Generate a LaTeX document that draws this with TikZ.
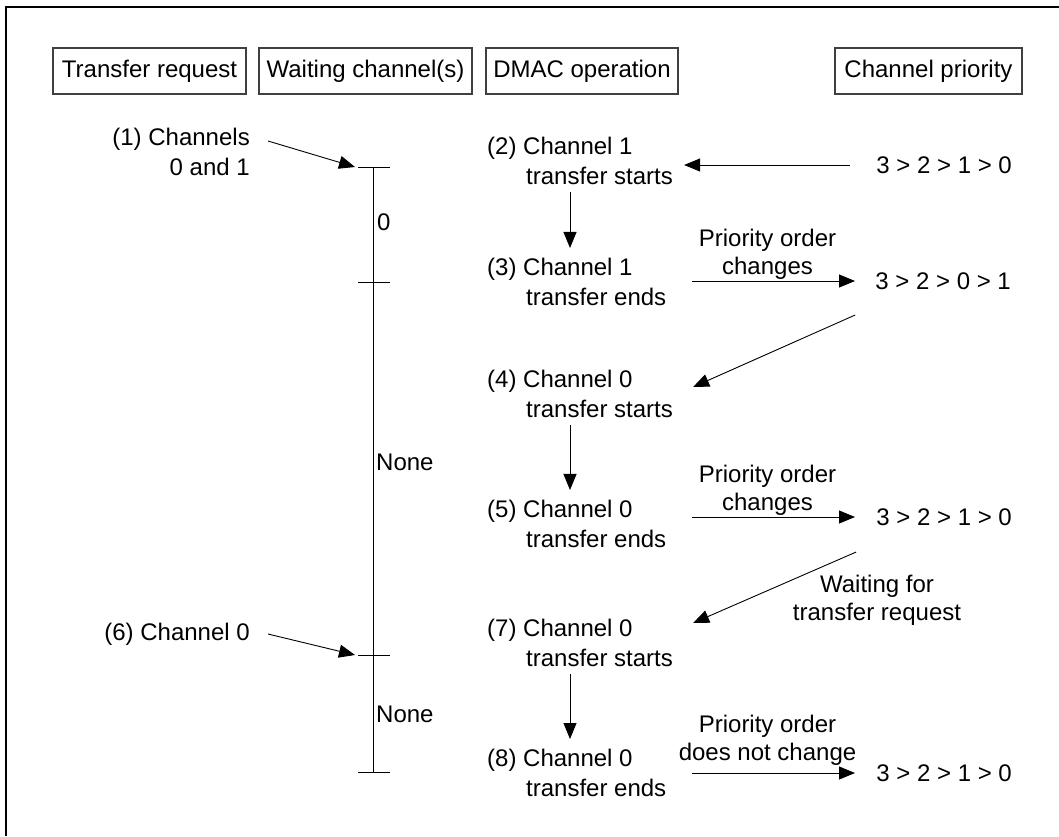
\documentclass[tikz,border=0pt]{standalone}
\usepackage{fontspec}
\setmainfont{Liberation Sans}
\usetikzlibrary{arrows.meta,positioning}

\begin{document}
\begin{tikzpicture}[x=1pt, y=-1pt,
      font=\fontsize{24}{30}\selectfont,
      head/.style={draw=black!75, line width=1.2pt, minimum height=46pt, inner xsep=6pt},
      txt/.style={inner sep=0pt},
      op/.style={txt, anchor=west, align=left},
      prio/.style={txt, anchor=east},
      note/.style={align=center, inner sep=1pt, xshift=-6pt, font=\fontsize{24}{28}\selectfont},
      arr/.style={-{Triangle[length=16pt,width=13pt]}, line width=0.9pt},
      down/.style={arr, shorten <=7pt, shorten >=10pt},
      tl/.style={line width=1pt}
    ]
    \useasboundingbox (0,0) rectangle (1059,836);
    % outer frame, only its top and left edge are in the picture
    \draw[line width=2pt] (1059,7) -- (6,7) -- (6,836);

    % column heads
    \node[head, minimum width=193pt] (hreq)  at (149.5,71) {Transfer request};
    \node[head, minimum width=213pt] (hwait) at (365.5,71) {Waiting channel(s)};
    \node[head, minimum width=192pt] (hop)   at (582,71)   {DMAC operation};
    \node[head, minimum width=187pt] (hprio) at (928.5,71) {Channel priority};

    % transfer requests
    \node[txt, anchor=east, align=right] (req1) at (250,152) {(1) Channels\\0 and 1};
    \node[txt, anchor=east] (req6) at (250,634) {(6) Channel 0};

    % waiting channels on a time line
    \coordinate (t1) at (373,167);
    \coordinate (t2) at (373,282);
    \coordinate (t3) at (373,655);
    \coordinate (t4) at (373,772);
    \draw[tl] (t1) -- (t4);
    \foreach \t in {t1,t2,t3,t4}
      \draw[tl] ([xshift=-15pt]\t) -- ([xshift=17pt]\t);
    \node[txt, anchor=west] (wait0) at (377,222) {0};
    \node[txt, anchor=west] (none1) at (376,462) {None};
    \node[txt, anchor=west] (none2) at (376,714) {None};

    \draw[arr] ([xshift=18pt,yshift=11pt]req1.east) -- ([xshift=-18pt]t1);
    \draw[arr] ([xshift=18pt]req6.east) -- ([xshift=-18pt]t3);

    % DMAC operation
    \node[op] (op2) at (487,161) {(2) Channel 1\\\hspace*{39pt}transfer starts};
    \node[op] (op3) at (487,282) {(3) Channel 1\\\hspace*{39pt}transfer ends};
    \node[op] (op4) at (487,394) {(4) Channel 0\\\hspace*{39pt}transfer starts};
    \node[op] (op5) at (487,524) {(5) Channel 0\\\hspace*{39pt}transfer ends};
    \node[op] (op7) at (487,643) {(7) Channel 0\\\hspace*{39pt}transfer starts};
    \node[op] (op8) at (487,773) {(8) Channel 0\\\hspace*{39pt}transfer ends};

    \draw[down] ([xshift=83pt]op2.south west) -- ([xshift=83pt]op3.north west);
    \draw[down] ([xshift=83pt]op4.south west) -- ([xshift=83pt]op5.north west);
    \draw[down] ([xshift=83pt]op7.south west) -- ([xshift=83pt]op8.north west);

    % channel priority
    \node[prio] (prio0) at (1012,165) {3 > 2 > 1 > 0};
    \node[prio] (prio1) at (1011,281) {3 > 2 > 0 > 1};
    \node[prio] (prio2) at (1012,517) {3 > 2 > 1 > 0};
    \node[prio] (prio3) at (1012,773) {3 > 2 > 1 > 0};

    \coordinate (colA) at (692,0);
    \coordinate (colB) at (855,0);

    \draw[arr, shorten <=26pt] (prio0.west) -- ([xshift=11pt]prio0.west -| op2.east);
    \draw[arr] (prio1 -| colA) -- (prio1 -| colB)
      node[midway, above, note] {Priority order\\changes};
    \draw[arr] ([xshift=-20pt,yshift=-34pt]prio1.west) -- ([xshift=20pt,yshift=7pt]op4.east);
    \draw[arr] (prio2 -| colA) -- (prio2 -| colB)
      node[midway, above, note] {Priority order\\changes};
    \draw[arr] ([xshift=-20pt,yshift=-35pt]prio2.west) -- ([xshift=20pt,yshift=20pt]op7.east);
    \node[note, xshift=6pt] (waitreq) at (877,600) {Waiting for\\transfer request};
    \draw[arr] (prio3 -| colA) -- (prio3 -| colB)
      node[midway, above, note, yshift=6pt] {Priority order\\does not change};
  \end{tikzpicture}
\end{document}
